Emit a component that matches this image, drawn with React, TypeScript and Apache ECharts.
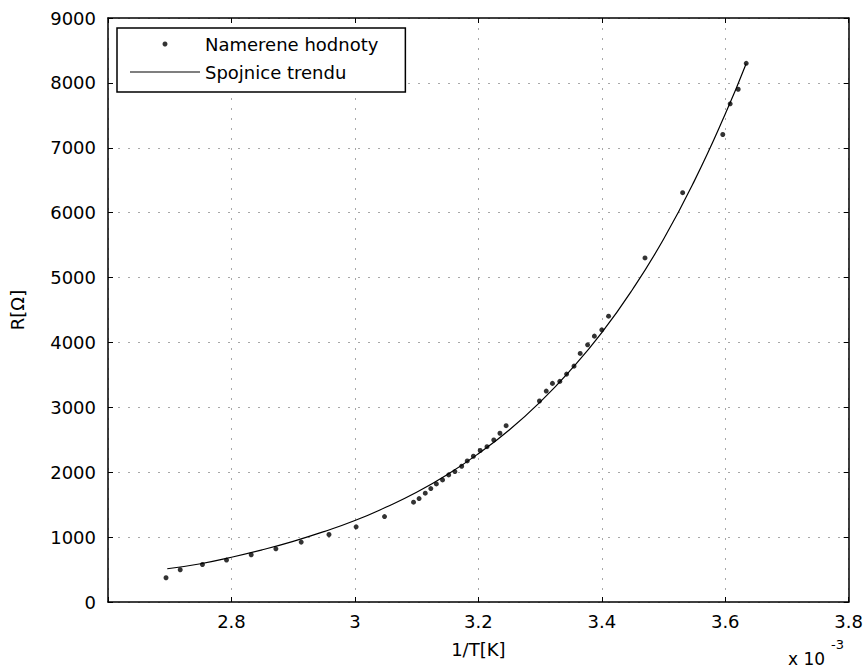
import React, { useEffect, useRef } from "react";
import * as echarts from "echarts";

// 1/T values in units of 10^-3 K^-1
const measuredX = [
  2.694, 2.717, 2.753, 2.792, 2.832, 2.872, 2.913, 2.958, 3.002, 3.048,
  3.095, 3.104, 3.114, 3.123, 3.132, 3.142, 3.152, 3.162, 3.173, 3.182,
  3.192, 3.203, 3.214, 3.225, 3.235, 3.245, 3.299, 3.31, 3.32, 3.332,
  3.343, 3.355, 3.365, 3.377, 3.388, 3.4, 3.411, 3.47, 3.531, 3.596,
  3.608, 3.621, 3.634,
];
const measuredR = [
  374, 497, 578, 646, 728, 820, 923, 1040, 1158, 1317,
  1538, 1594, 1677, 1748, 1820, 1882, 1958, 2010, 2092, 2174,
  2246, 2335, 2394, 2497, 2600, 2717, 3097, 3251, 3369, 3400,
  3512, 3635, 3831, 3963, 4097, 4194, 4405, 5302, 6308, 7205,
  7677, 7902, 8302,
];

const trendX = [
  2.696, 2.75, 2.8, 2.85, 2.9, 2.95, 3.0, 3.05, 3.1, 3.15,
  3.2, 3.25, 3.3, 3.35, 3.4, 3.45, 3.5, 3.55, 3.6, 3.634,
];
const trendR = [
  512, 590, 690, 805, 935, 1085, 1255, 1460, 1690, 1965,
  2285, 2650, 3080, 3580, 4150, 4820, 5590, 6490, 7520, 8300,
];

const xTicks = [2.6, 2.8, 3.0, 3.2, 3.4, 3.6, 3.8];
const yTicks = [0, 1000, 2000, 3000, 4000, 5000, 6000, 7000, 8000, 9000];

const seriesNames = ["Namerene hodnoty", "Spojnice trendu"];
const xName = "1/T[K]";
const yName = "R[Ω]";
const xScaleMain = "x 10";
const xScaleExp = "-3";

const FONT = "DejaVu Sans";

export default function App() {
  const ref = useRef<HTMLDivElement>(null);

  useEffect(() => {
    document.body.style.margin = "0";
    if (!ref.current) return;
    const chart = echarts.init(ref.current, null, { renderer: "svg" });

    const xMin = xTicks[0];
    const xMax = xTicks[xTicks.length - 1];
    const xInt = 0.2;
    const yMin = yTicks[0];
    const yMax = yTicks[yTicks.length - 1];
    const yInt = yTicks[1] - yTicks[0];

    const gridLine = {
      show: true,
      lineStyle: { color: "#a8a8a8", width: 1, type: [2, 8] as any },
    };
    const axisLine = { show: true, onZero: false, lineStyle: { color: "#000", width: 1.5 } };
    const tick = { show: true, inside: true, length: 5, lineStyle: { color: "#000", width: 1 } };
    const fmtX = (v: number) => {
      const r = Math.round(v * 10) / 10;
      if (Math.abs(r - xMin) < 1e-9) return "";
      return String(r);
    };

    chart.setOption({
      animation: false,
      backgroundColor: "#fff",
      grid: { left: 105, right: 16, top: 18, bottom: 70, containLabel: false },
      xAxis: [
        {
          type: "value",
          position: "bottom",
          min: xMin,
          max: xMax,
          interval: xInt,
          name: xName,
          nameLocation: "middle",
          nameGap: 38,
          nameTextStyle: { fontFamily: FONT, fontSize: 18, color: "#000" },
          axisLine,
          axisTick: tick,
          axisLabel: {
            formatter: fmtX,
            fontFamily: FONT,
            fontSize: 18,
            color: "#000",
            margin: 10,
            showMinLabel: true,
            showMaxLabel: true,
          },
          splitLine: gridLine,
        },
        {
          type: "value",
          position: "top",
          min: xMin,
          max: xMax,
          interval: xInt,
          axisLine,
          axisTick: tick,
          axisLabel: { show: false },
          splitLine: { show: false },
        },
      ],
      yAxis: [
        {
          type: "value",
          position: "left",
          min: yMin,
          max: yMax,
          interval: yInt,
          name: yName,
          nameLocation: "middle",
          nameGap: 82,
          nameTextStyle: { fontFamily: FONT, fontSize: 18, color: "#000" },
          axisLine,
          axisTick: tick,
          axisLabel: {
            formatter: (v: number) => String(v),
            fontFamily: FONT,
            fontSize: 18,
            color: "#000",
            margin: 12,
          },
          splitLine: gridLine,
        },
        {
          type: "value",
          position: "right",
          min: yMin,
          max: yMax,
          interval: yInt,
          axisLine,
          axisTick: tick,
          axisLabel: { show: false },
          splitLine: { show: false },
        },
      ],
      legend: {
        orient: "vertical",
        left: 117,
        top: 28,
        padding: [7, 27, 11, 13],
        itemGap: 10,
        itemWidth: 70,
        itemHeight: 5,
        symbolKeepAspect: true,
        backgroundColor: "#fff",
        borderColor: "#000",
        borderWidth: 1.5,
        textStyle: { fontFamily: FONT, fontSize: 18, color: "#000" },
        data: [
          { name: seriesNames[0], icon: "circle" },
          { name: seriesNames[1], icon: "path://M0,0 L70,0 L70,1.2 L0,1.2 Z" },
        ],
      },
      graphic: [
        {
          type: "text",
          left: 788,
          top: 650,
          style: { text: xScaleMain, font: `17px '${FONT}'`, fill: "#000" },
        },
        {
          type: "text",
          left: 831,
          top: 638,
          style: { text: xScaleExp, font: `13px '${FONT}'`, fill: "#000" },
        },
      ],
      series: [
        {
          name: seriesNames[0],
          type: "scatter",
          symbol: "circle",
          symbolSize: 5,
          itemStyle: { color: "#000" },
          data: measuredX.map((x, i) => [x, measuredR[i]]),
          z: 3,
        },
        {
          name: seriesNames[1],
          type: "line",
          smooth: true,
          symbol: "none",
          showSymbol: false,
          lineStyle: { color: "#000", width: 1.2 },
          itemStyle: { color: "#000" },
          data: trendX.map((x, i) => [x, trendR[i]]),
          z: 2,
        },
      ],
    });

    return () => chart.dispose();
  }, []);

  return <div ref={ref} style={{ width: 866, height: 672 }} />;
}
